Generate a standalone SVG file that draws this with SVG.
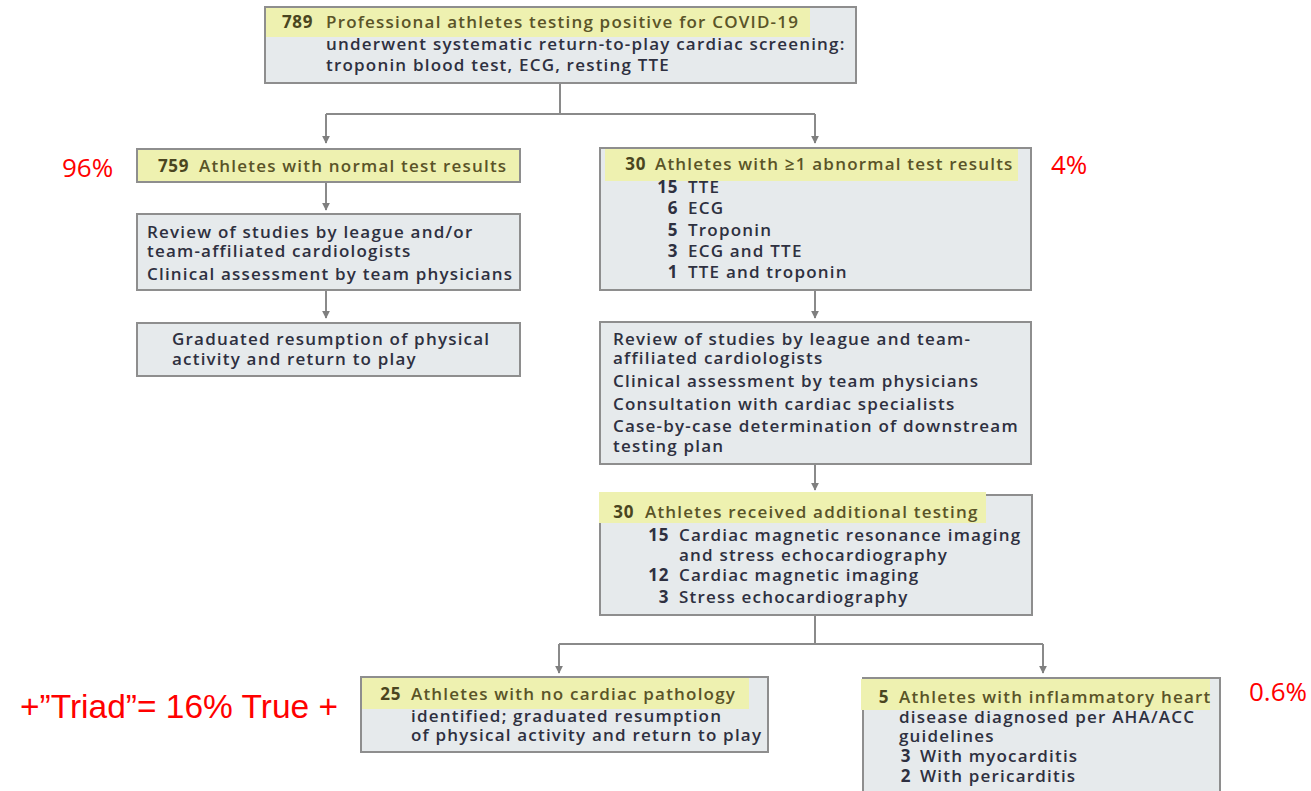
<svg xmlns="http://www.w3.org/2000/svg" width="1311" height="791" viewBox="0 0 1311 791">
  <defs>
    <marker id="arrow" viewBox="0 0 10 10" refX="9" refY="5" markerWidth="8" markerHeight="8" markerUnits="userSpaceOnUse" orient="auto">
      <path d="M0,0 L10,5 L0,10 z" fill="#7f7f7f"/>
    </marker>
    <style>
      .box { fill: #e6eaec; stroke: #8e8e8e; stroke-width: 2; }
      .hl { fill: #eef1b0; }
      .hlbox { fill: #eef1b0; stroke: #8e8e8e; stroke-width: 2; }
      text { font-family: "Open Sans", "DejaVu Sans", sans-serif; font-size: 17px; font-weight: 600; letter-spacing: 1.2px; fill: #2e3040; }
      .num { font-weight: 700; text-anchor: end; letter-spacing: 0.6px; }
      .head { fill: #5a5428; }
      .headnum { fill: #4a4520; font-weight: 700; text-anchor: end; letter-spacing: 0.6px; }
      .pct { font-family: "Open Sans", "Liberation Sans", sans-serif; font-size: 26px; font-weight: 400; letter-spacing: 0; fill: #ff0000; }
      .note { font-family: "Liberation Sans Narrow", "Liberation Sans", sans-serif; font-size: 33px; font-weight: 400; letter-spacing: 0; fill: #ff0000; }
      .conn { fill: none; stroke: #8a8a8a; stroke-width: 2; }
    </style>
  </defs>

  <rect width="1311" height="791" fill="#ffffff"/>

  <!-- connectors -->
  <g id="connectors">
    <path class="conn" d="M560,83 V114"/>
    <path class="conn" d="M326,114 H815"/>
    <path class="conn" d="M326,114 V143" marker-end="url(#arrow)"/>
    <path class="conn" d="M815,114 V143" marker-end="url(#arrow)"/>
    <path class="conn" d="M326,182 V210" marker-end="url(#arrow)"/>
    <path class="conn" d="M326,290 V318" marker-end="url(#arrow)"/>
    <path class="conn" d="M815,290 V318" marker-end="url(#arrow)"/>
    <path class="conn" d="M815,464 V490" marker-end="url(#arrow)"/>
    <path class="conn" d="M815,615 V644"/>
    <path class="conn" d="M559,644 H1043"/>
    <path class="conn" d="M559,644 V673" marker-end="url(#arrow)"/>
    <path class="conn" d="M1043,644 V673" marker-end="url(#arrow)"/>
  </g>

  <!-- top: all athletes screened -->
  <g id="screened">
    <rect class="box" x="265" y="7" width="591" height="76"/>
    <rect class="hl" x="266" y="8" width="544" height="29"/>
    <text class="headnum" x="313" y="28">789</text>
    <text class="head" x="326" y="28">Professional athletes testing positive for COVID-19</text>
    <text x="326" y="50">underwent systematic return-to-play cardiac screening:</text>
    <text x="326" y="71">troponin blood test, ECG, resting TTE</text>
  </g>

  <!-- left branch -->
  <g id="normal">
    <rect class="hlbox" x="137" y="149" width="383" height="33"/>
    <text class="headnum" x="189" y="172">759</text>
    <text class="head" x="199" y="172">Athletes with normal test results</text>
  </g>

  <g id="review-normal">
    <rect class="box" x="137" y="214" width="383" height="76"/>
    <text x="147" y="238">Review of studies by league and/or</text>
    <text x="147" y="257">team-affiliated cardiologists</text>
    <text x="147" y="280">Clinical assessment by team physicians</text>
  </g>

  <g id="return-normal">
    <rect class="box" x="137" y="323" width="383" height="53"/>
    <text x="172" y="345">Graduated resumption of physical</text>
    <text x="172" y="365">activity and return to play</text>
  </g>

  <!-- right branch -->
  <g id="abnormal">
    <rect class="box" x="600" y="148" width="431" height="142"/>
    <rect class="hl" x="605" y="149" width="413" height="32"/>
    <text class="headnum" x="646" y="170">30</text>
    <text class="head" x="655" y="170">Athletes with ≥1 abnormal test results</text>
    <text class="num" x="678" y="193">15</text><text x="688" y="193">TTE</text>
    <text class="num" x="678" y="214">6</text><text x="688" y="214">ECG</text>
    <text class="num" x="678" y="236">5</text><text x="688" y="236">Troponin</text>
    <text class="num" x="678" y="257">3</text><text x="688" y="257">ECG and TTE</text>
    <text class="num" x="678" y="278">1</text><text x="688" y="278">TTE and troponin</text>
  </g>

  <g id="review-abnormal">
    <rect class="box" x="600" y="322" width="431" height="142"/>
    <text x="613" y="345">Review of studies by league and team-</text>
    <text x="613" y="364">affiliated cardiologists</text>
    <text x="613" y="387">Clinical assessment by team physicians</text>
    <text x="613" y="410">Consultation with cardiac specialists</text>
    <text x="613" y="432">Case-by-case determination of downstream</text>
    <text x="613" y="452">testing plan</text>
  </g>

  <g id="additional-testing">
    <rect class="box" x="600" y="495" width="432" height="120"/>
    <rect class="hl" x="599" y="492" width="387" height="31"/>
    <text class="headnum" x="634" y="518">30</text>
    <text class="head" x="645" y="518">Athletes received additional testing</text>
    <text class="num" x="669" y="541">15</text><text x="679" y="541">Cardiac magnetic resonance imaging</text>
    <text x="679" y="561">and stress echocardiography</text>
    <text class="num" x="669" y="581">12</text><text x="679" y="581">Cardiac magnetic imaging</text>
    <text class="num" x="669" y="603">3</text><text x="679" y="603">Stress echocardiography</text>
  </g>

  <!-- outcomes -->
  <g id="no-pathology">
    <rect class="box" x="361" y="677" width="407" height="75"/>
    <rect class="hl" x="362" y="678" width="387" height="31"/>
    <text class="headnum" x="401" y="700">25</text>
    <text class="head" x="411" y="700">Athletes with no cardiac pathology</text>
    <text x="411" y="722">identified; graduated resumption</text>
    <text x="411" y="741">of physical activity and return to play</text>
  </g>

  <g id="inflammatory">
    <rect class="box" x="863" y="678" width="357" height="130"/>
    <rect class="hl" x="861" y="679" width="349" height="31"/>
    <text class="headnum" x="889" y="703">5</text>
    <text class="head" x="899" y="703">Athletes with inflammatory heart</text>
    <text x="899" y="723">disease diagnosed per AHA/ACC</text>
    <text x="899" y="742">guidelines</text>
    <text class="num" x="911" y="762">3</text><text x="920" y="762">With myocarditis</text>
    <text class="num" x="911" y="782">2</text><text x="920" y="782">With pericarditis</text>
  </g>

  <!-- annotations -->
  <g id="annotations">
    <text class="pct" x="62" y="177">96%</text>
    <text class="pct" x="1051" y="174">4%</text>
    <text class="pct" x="1249" y="701">0.6%</text>
    <text class="note" x="20" y="718" textLength="318" lengthAdjust="spacingAndGlyphs">+”Triad”= 16% True +</text>
  </g>
</svg>
